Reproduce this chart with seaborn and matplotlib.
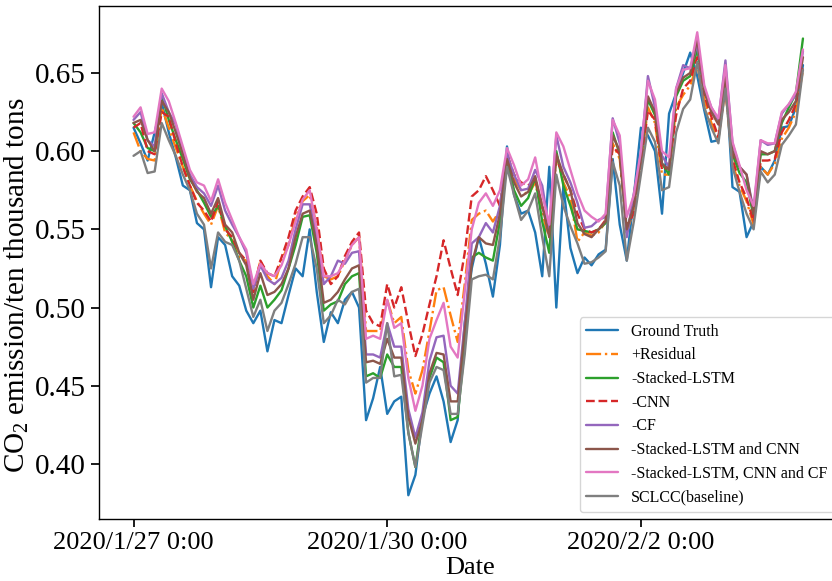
import numpy as np
import pandas as pd
import matplotlib
matplotlib.use("Agg")
import matplotlib.pyplot as plt
import seaborn as sns

start = "2020-01-27 00:00"
n_points = 96
step = "2h"

ground_truth = [0.615, 0.605, 0.594, 0.612, 0.631, 0.612, 0.596, 0.578, 0.575, 0.554,
                0.550, 0.513, 0.545, 0.540, 0.520, 0.514, 0.498, 0.490, 0.498, 0.472,
                0.492, 0.490, 0.508, 0.525, 0.520, 0.550, 0.510, 0.478, 0.497, 0.490,
                0.505, 0.510, 0.500, 0.428, 0.442, 0.462, 0.432, 0.440, 0.443, 0.380,
                0.393, 0.430, 0.445, 0.456, 0.440, 0.414, 0.428, 0.490, 0.525, 0.545,
                0.528, 0.507, 0.540, 0.603, 0.572, 0.560, 0.562, 0.548, 0.520, 0.590,
                0.500, 0.578, 0.538, 0.522, 0.532, 0.527, 0.534, 0.537, 0.595, 0.553,
                0.530, 0.571, 0.615, 0.610, 0.600, 0.560, 0.624, 0.637, 0.650, 0.663,
                0.648, 0.626, 0.606, 0.607, 0.652, 0.577, 0.574, 0.545, 0.555, 0.590,
                0.585, 0.594, 0.615, 0.616, 0.628, 0.655]

residual = [0.612, 0.600, 0.595, 0.594, 0.628, 0.615, 0.602, 0.590, 0.578, 0.568,
            0.560, 0.553, 0.565, 0.548, 0.543, 0.532, 0.530, 0.510, 0.530, 0.520,
            0.515, 0.530, 0.540, 0.558, 0.568, 0.572, 0.552, 0.520, 0.518, 0.520,
            0.530, 0.540, 0.545, 0.485, 0.485, 0.485, 0.505, 0.490, 0.494, 0.460,
            0.445, 0.460, 0.485, 0.511, 0.513, 0.495, 0.478, 0.515, 0.556, 0.560,
            0.562, 0.555, 0.562, 0.597, 0.582, 0.575, 0.572, 0.580, 0.560, 0.545,
            0.598, 0.580, 0.570, 0.542, 0.548, 0.546, 0.548, 0.555, 0.605, 0.595,
            0.548, 0.563, 0.590, 0.628, 0.618, 0.585, 0.585, 0.628, 0.636, 0.642,
            0.655, 0.633, 0.618, 0.608, 0.640, 0.592, 0.578, 0.568, 0.553, 0.590,
            0.585, 0.592, 0.608, 0.615, 0.625, 0.652]

no_lstm = [0.618, 0.612, 0.602, 0.600, 0.636, 0.620, 0.607, 0.595, 0.582, 0.575,
           0.567, 0.558, 0.565, 0.552, 0.542, 0.530, 0.520, 0.500, 0.514, 0.500,
           0.505, 0.511, 0.525, 0.540, 0.558, 0.559, 0.535, 0.498, 0.502, 0.504,
           0.515, 0.520, 0.522, 0.456, 0.458, 0.455, 0.470, 0.462, 0.462, 0.420,
           0.398, 0.430, 0.455, 0.468, 0.465, 0.428, 0.430, 0.475, 0.532, 0.535,
           0.532, 0.530, 0.555, 0.593, 0.575, 0.565, 0.570, 0.583, 0.555, 0.535,
           0.600, 0.578, 0.565, 0.550, 0.549, 0.548, 0.550, 0.554, 0.612, 0.598,
           0.548, 0.568, 0.595, 0.633, 0.623, 0.592, 0.585, 0.635, 0.645, 0.648,
           0.665, 0.638, 0.627, 0.620, 0.648, 0.598, 0.586, 0.580, 0.558, 0.598,
           0.598, 0.600, 0.618, 0.628, 0.637, 0.672]

no_cnn = [0.615, 0.618, 0.600, 0.598, 0.625, 0.622, 0.605, 0.590, 0.578, 0.567,
          0.562, 0.555, 0.568, 0.550, 0.545, 0.535, 0.530, 0.510, 0.530, 0.522,
          0.520, 0.532, 0.545, 0.562, 0.571, 0.577, 0.560, 0.525, 0.515, 0.520,
          0.533, 0.542, 0.548, 0.498, 0.490, 0.488, 0.515, 0.500, 0.513, 0.490,
          0.469, 0.483, 0.502, 0.520, 0.543, 0.525, 0.508, 0.535, 0.571, 0.575,
          0.584, 0.575, 0.565, 0.598, 0.585, 0.580, 0.578, 0.582, 0.565, 0.550,
          0.595, 0.585, 0.575, 0.560, 0.550, 0.548, 0.550, 0.556, 0.603, 0.598,
          0.552, 0.560, 0.590, 0.626, 0.620, 0.588, 0.590, 0.623, 0.640, 0.645,
          0.660, 0.636, 0.622, 0.609, 0.640, 0.595, 0.580, 0.570, 0.555, 0.594,
          0.594, 0.595, 0.612, 0.620, 0.630, 0.655]

no_cf = [0.620, 0.625, 0.607, 0.603, 0.637, 0.625, 0.617, 0.600, 0.585, 0.577,
         0.573, 0.565, 0.578, 0.562, 0.553, 0.545, 0.535, 0.512, 0.527, 0.518,
         0.515, 0.519, 0.530, 0.550, 0.566, 0.566, 0.545, 0.515, 0.520, 0.530,
         0.528, 0.535, 0.536, 0.470, 0.470, 0.468, 0.490, 0.475, 0.475, 0.435,
         0.417, 0.433, 0.466, 0.481, 0.482, 0.450, 0.445, 0.490, 0.541, 0.545,
         0.554, 0.548, 0.565, 0.598, 0.585, 0.575, 0.576, 0.588, 0.578, 0.550,
         0.610, 0.590, 0.580, 0.567, 0.551, 0.552, 0.556, 0.558, 0.621, 0.605,
         0.545, 0.573, 0.598, 0.648, 0.628, 0.597, 0.590, 0.640, 0.655, 0.653,
         0.668, 0.640, 0.628, 0.620, 0.658, 0.605, 0.590, 0.585, 0.562, 0.607,
         0.604, 0.605, 0.624, 0.630, 0.636, 0.664]

no_lstm_cnn = [0.618, 0.620, 0.607, 0.600, 0.632, 0.625, 0.612, 0.598, 0.583, 0.574,
               0.570, 0.560, 0.570, 0.553, 0.548, 0.535, 0.527, 0.505, 0.522, 0.508,
               0.510, 0.515, 0.525, 0.545, 0.560, 0.562, 0.540, 0.503, 0.505, 0.510,
               0.518, 0.525, 0.527, 0.465, 0.466, 0.464, 0.480, 0.468, 0.468, 0.430,
               0.413, 0.428, 0.458, 0.471, 0.470, 0.440, 0.440, 0.485, 0.528, 0.545,
               0.541, 0.540, 0.560, 0.595, 0.580, 0.571, 0.574, 0.584, 0.565, 0.545,
               0.598, 0.585, 0.575, 0.554, 0.547, 0.545, 0.550, 0.555, 0.610, 0.600,
               0.550, 0.565, 0.595, 0.635, 0.625, 0.592, 0.588, 0.637, 0.647, 0.650,
               0.672, 0.638, 0.625, 0.617, 0.648, 0.600, 0.590, 0.585, 0.560, 0.600,
               0.598, 0.600, 0.620, 0.625, 0.632, 0.660]

no_lstm_cnn_cf = [0.622, 0.628, 0.611, 0.612, 0.640, 0.632, 0.618, 0.603, 0.588, 0.580,
                  0.578, 0.568, 0.582, 0.567, 0.556, 0.545, 0.537, 0.515, 0.528, 0.522,
                  0.520, 0.527, 0.540, 0.555, 0.569, 0.575, 0.550, 0.520, 0.520, 0.522,
                  0.530, 0.540, 0.545, 0.480, 0.482, 0.480, 0.505, 0.487, 0.490, 0.455,
                  0.434, 0.450, 0.480, 0.492, 0.503, 0.475, 0.468, 0.510, 0.550, 0.567,
                  0.573, 0.565, 0.575, 0.602, 0.591, 0.578, 0.582, 0.596, 0.572, 0.553,
                  0.612, 0.603, 0.588, 0.573, 0.562, 0.558, 0.555, 0.560, 0.620, 0.610,
                  0.558, 0.572, 0.600, 0.645, 0.633, 0.600, 0.596, 0.640, 0.652, 0.653,
                  0.676, 0.642, 0.628, 0.621, 0.655, 0.606, 0.591, 0.575, 0.565, 0.607,
                  0.605, 0.605, 0.625, 0.630, 0.638, 0.665]

baseline = [0.597, 0.600, 0.586, 0.587, 0.618, 0.607, 0.597, 0.585, 0.575, 0.560,
            0.553, 0.525, 0.548, 0.542, 0.540, 0.530, 0.512, 0.494, 0.505, 0.485,
            0.498, 0.503, 0.515, 0.528, 0.545, 0.545, 0.525, 0.490, 0.495, 0.505,
            0.502, 0.510, 0.512, 0.452, 0.455, 0.455, 0.490, 0.456, 0.457, 0.420,
            0.398, 0.425, 0.452, 0.462, 0.460, 0.432, 0.432, 0.470, 0.518, 0.520,
            0.521, 0.518, 0.545, 0.590, 0.572, 0.556, 0.562, 0.573, 0.545, 0.520,
            0.585, 0.565, 0.552, 0.541, 0.528, 0.529, 0.532, 0.536, 0.593, 0.578,
            0.530, 0.555, 0.585, 0.615, 0.606, 0.575, 0.577, 0.612, 0.627, 0.633,
            0.657, 0.628, 0.615, 0.605, 0.640, 0.590, 0.574, 0.560, 0.550, 0.587,
            0.580, 0.585, 0.604, 0.610, 0.617, 0.652]

labels = ["Ground Truth", "+Residual", "-Stacked-LSTM", "-CNN", "-CF",
          "-Stacked-LSTM and CNN", "-Stacked-LSTM, CNN and CF", "SCLCC(baseline)"]
series = [ground_truth, residual, no_lstm, no_cnn, no_cf,
          no_lstm_cnn, no_lstm_cnn_cf, baseline]
colors = ["#1f77b4", "#ff7f0e", "#2ca02c", "#d62728", "#9467bd",
          "#8c564b", "#e377c2", "#7f7f7f"]
styles = ["-", "-.", "-", "--", "-", "-", "-", "-"]

tick_dates = ["2020-01-27 00:00", "2020-01-30 00:00", "2020-02-02 00:00"]
tick_labels = ["2020/1/27 0:00", "2020/1/30 0:00", "2020/2/2 0:00"]
y_ticks = [0.40, 0.45, 0.50, 0.55, 0.60, 0.65]

dates = pd.date_range(start, periods=n_points, freq=step)
frames = []
for lab, vals in zip(labels, series):
    frames.append(pd.DataFrame({"Date": dates, "value": vals, "model": lab}))
df = pd.concat(frames, ignore_index=True)

sns.set_theme(style="ticks")
plt.rcParams["font.family"] = ["Liberation Serif", "DejaVu Serif"]
plt.rcParams["mathtext.fontset"] = "custom"
plt.rcParams["mathtext.rm"] = "Liberation Serif"
plt.rcParams["mathtext.it"] = "Liberation Serif:italic"
for key in ["text.color", "axes.labelcolor", "xtick.color", "ytick.color", "axes.edgecolor"]:
    plt.rcParams[key] = "black"

fig = plt.figure(figsize=(8.32, 5.81), dpi=100)
ax = fig.add_axes([99 / 832, 1 - 519 / 581, 742 / 832, 513 / 581])

for lab, col, ls in zip(labels, colors, styles):
    sub = df[df["model"] == lab]
    sns.lineplot(data=sub, x="Date", y="value", color=col, linestyle=ls,
                 linewidth=1.7, label=lab, ax=ax)

t0 = pd.Timestamp(start)
ax.set_xlim(t0 - pd.Timedelta(hours=9.8), t0 + pd.Timedelta(hours=200.8))
ax.set_ylim(0.3648, 0.6928)
ax.set_xticks([pd.Timestamp(d) for d in tick_dates])
ax.set_xticklabels(tick_labels, fontsize=19)
ax.set_yticks(y_ticks)
ax.set_yticklabels([f"{v:.2f}" for v in y_ticks], fontsize=21)
ax.set_xlabel("Date", fontsize=19, labelpad=2)
ax.set_ylabel(r"CO$_2$ emission/ten thousand tons", fontsize=21)
ax.yaxis.set_label_coords(-0.092, 0.455)
for s in ax.spines.values():
    s.set_linewidth(1.0)

leg = ax.legend(loc="lower right", fontsize=11.5, frameon=True,
                labelspacing=0.48, borderaxespad=0.45)

fig.savefig("out.png", dpi=100)
